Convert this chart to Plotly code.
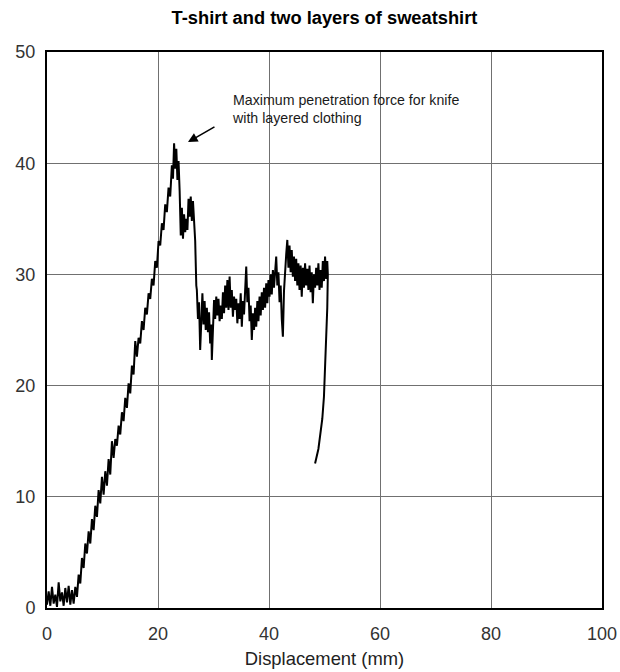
import plotly.graph_objects as go

# ---- data ----
x_noise0 = [0.0, 0.3, 0.6, 0.9, 1.2, 1.5, 1.8, 2.1, 2.4, 2.7, 3.0, 3.3, 3.6, 3.9, 4.2, 4.5, 4.8, 5.1]
y_noise0 = [0.3, 1.5, 0.2, 1.9, 0.4, 1.2, 0.1, 2.3, 0.6, 1.4, 0.2, 1.8, 0.5, 2.0, 0.3, 1.6, 0.4, 1.9]

x_rise = [5.4, 5.7, 6.0, 6.3, 6.6, 6.9, 7.2, 7.5, 7.8, 8.1, 8.4, 8.7, 9.0, 9.3, 9.6, 9.9,
          10.2, 10.5, 10.8, 11.1, 11.4, 11.7, 12.0, 12.3, 12.6, 12.9, 13.2, 13.5, 13.8,
          14.1, 14.4, 14.7, 15.0, 15.3, 15.6, 15.9, 16.2, 16.5, 16.8, 17.1, 17.4, 17.7,
          18.0, 18.3, 18.6, 18.9, 19.2, 19.5, 19.8, 20.1, 20.4, 20.7, 21.0, 21.3, 21.6,
          21.9, 22.2, 22.5, 22.7, 22.9, 23.1, 23.3, 23.5, 23.7, 23.9]
y_rise = [1.0, 3.0, 2.2, 4.5, 3.6, 5.8, 4.9, 6.9, 5.8, 8.0, 7.0, 9.2, 8.2, 10.6, 9.4, 11.8,
          10.2, 12.3, 11.0, 13.4, 12.0, 15.0, 13.5, 15.2, 14.6, 16.4, 15.6, 17.6, 16.8,
          18.9, 18.0, 20.2, 19.3, 21.8, 21.0, 24.0, 22.6, 24.3, 23.8, 25.8, 25.0, 27.0,
          26.4, 28.3, 27.8, 29.6, 29.0, 31.2, 30.6, 33.0, 32.6, 34.6, 34.0, 36.3, 35.6,
          37.8, 37.0, 39.8, 38.6, 41.8, 39.5, 41.3, 38.5, 40.2, 37.5]

x_shoulder = [24.1, 24.3, 24.5, 24.7, 24.9, 25.1, 25.3, 25.5, 25.7, 25.9, 26.1, 26.3, 26.5, 26.7, 26.9]
y_shoulder = [33.5, 36.0, 33.2, 35.4, 33.8, 35.0, 34.0, 36.8, 35.2, 37.0, 34.8, 36.6, 34.5, 33.0, 29.0]

x_plateau = [27.0, 27.2, 27.4, 27.6, 27.8, 28.0, 28.2, 28.4, 28.6, 28.8, 29.0, 29.2, 29.4, 29.6,
             29.7, 29.9, 30.1, 30.3, 30.5, 30.7, 30.9, 31.1, 31.3, 31.5, 31.7, 31.9, 32.1,
             32.3, 32.5, 32.7, 32.9, 33.1, 33.3, 33.5, 33.7, 33.9, 34.1, 34.3, 34.5, 34.7,
             34.9, 35.1, 35.3, 35.5, 35.7, 35.9, 36.1, 36.3, 36.5, 36.7, 36.9, 37.1, 37.3,
             37.5, 37.7, 37.9, 38.1, 38.3, 38.5, 38.7, 38.9, 39.1, 39.3, 39.5, 39.7, 39.9,
             40.1, 40.3, 40.5, 40.7, 40.9, 41.1, 41.3, 41.5, 41.7, 41.9, 42.1, 42.3, 42.5,
             42.7, 42.9, 43.1, 43.3, 43.5, 43.7, 43.9, 44.1, 44.3, 44.5, 44.7, 44.9, 45.1,
             45.3, 45.5, 45.7, 45.9, 46.1, 46.3, 46.5, 46.7, 46.9, 47.1, 47.3, 47.5, 47.7,
             47.9, 48.1, 48.3, 48.5, 48.7, 48.9, 49.1, 49.3, 49.5, 49.7, 49.9, 50.1, 50.3,
             50.5, 50.6]
y_plateau = [28.6, 26.0, 27.5, 23.2, 26.8, 28.3, 25.5, 27.6, 25.0, 27.0, 24.8, 26.6, 23.8, 25.5,
             22.3, 25.8, 27.7, 26.0, 28.0, 26.3, 27.8, 25.8, 27.2, 26.0, 28.4, 26.5, 29.0,
             27.0, 29.5, 26.8, 29.8, 27.0, 28.6, 26.2, 28.0, 26.8, 27.8, 25.6, 27.4, 26.0,
             28.3, 25.3, 27.6, 26.4, 29.0, 30.7, 27.5, 28.8, 25.8, 27.2, 24.1, 26.5, 25.0,
             27.0, 25.3, 27.6, 25.8, 28.0, 26.3, 28.4, 26.8, 28.8, 27.0, 29.2, 27.4, 29.5,
             28.0, 30.0, 28.2, 30.4, 28.8, 30.8, 31.6, 29.0, 30.2, 27.5, 29.0, 26.0, 24.4,
             28.5, 30.5, 31.8, 33.1, 30.6, 32.6, 30.2, 32.2, 29.8, 31.6, 29.4, 31.4, 29.0,
             31.0, 28.6, 30.8, 28.0, 30.6, 28.8, 31.0, 29.0, 30.5, 28.6, 30.8, 28.4, 30.2,
             27.4, 30.0, 28.8, 30.6, 29.0, 31.0, 28.6, 30.4, 28.8, 31.2, 29.4, 31.6, 29.6,
             31.2, 30.0]

x_unload = [50.5, 50.3, 50.1, 49.9, 49.6, 49.3, 48.9, 48.3]
y_unload = [27.0, 24.0, 21.0, 19.0, 17.0, 15.6, 14.3, 13.0]

x_all = x_noise0 + x_rise + x_shoulder + x_plateau + x_unload
y_all = y_noise0 + y_rise + y_shoulder + y_plateau + y_unload

x_ticks = [0, 20, 40, 60, 80, 100]
y_ticks = [0, 10, 20, 30, 40, 50]

title_text = "<b>T-shirt and two layers of sweatshirt</b>"
x_title = "Displacement (mm)"
note_text = "Maximum penetration force for knife<br>with layered clothing"
peak_x, peak_y = 25.4, 41.9

fig = go.Figure()
fig.add_trace(go.Scatter(x=x_all, y=y_all, mode="lines",
                         line=dict(color="black", width=2), showlegend=False))

font_family = "Liberation Sans, Arial, sans-serif"

fig.add_annotation(x=peak_x, y=peak_y, xref="x", yref="y",
                   ax=28, ay=-16, showarrow=True, arrowhead=2, arrowsize=1.2,
                   arrowwidth=1.6, arrowcolor="black", text="")
fig.add_annotation(x=33.0, y=44.9, xref="x", yref="y", text=note_text,
                   showarrow=False, xanchor="left", yanchor="middle", align="left",
                   font=dict(family=font_family, size=14.2, color="#1a1a1a"))

fig.update_layout(
    width=620, height=672,
    margin=dict(l=47, r=18, t=52, b=64, autoexpand=False),
    paper_bgcolor="white", plot_bgcolor="white",
    title=dict(text=title_text, x=0.5, xref="paper", xanchor="center",
               y=1 - 18 / 672, yref="container", yanchor="middle",
               font=dict(family=font_family, size=18.3, color="black")),
    font=dict(family=font_family, size=18, color="#333"),
)
fig.update_xaxes(range=[0, 100], tickvals=x_ticks, showgrid=True, gridcolor="#707070",
                 gridwidth=1, showline=True, linecolor="black", linewidth=2, mirror=True,
                 zeroline=False, ticks="", ticklen=0, automargin=False,
                 ticklabelstandoff=8,
                 title=dict(text=x_title, standoff=10, font=dict(size=18.4, color="#222")))
fig.update_yaxes(range=[0, 50], tickvals=y_ticks, showgrid=True, gridcolor="#707070",
                 gridwidth=1, showline=True, linecolor="black", linewidth=2, mirror=True,
                 zeroline=False, ticks="", ticklen=0, automargin=False,
                 ticklabelstandoff=6)

fig.write_html("out.html", config={"displayModeBar": False},
               post_script="document.body.style.margin='0';document.body.style.overflow='hidden';")
